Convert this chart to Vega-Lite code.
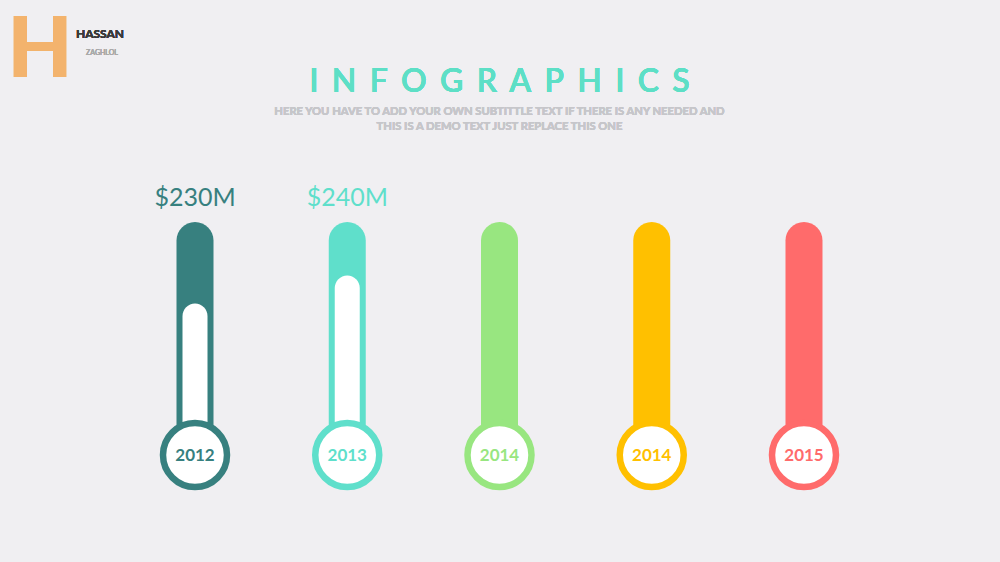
{
  "$schema": "https://vega.github.io/schema/vega-lite/v6.json",
  "width": 1000,
  "height": 562,
  "autosize": {"type": "none"},
  "padding": 0,
  "background": "#f0eff2",
  "config": {"view": {"stroke": null}, "font": "Lato"},
  "data": {
    "values": [
      {"slot": 1, "year": "2012", "amount": "$230M", "level": 65},
      {"slot": 2, "year": "2013", "amount": "$240M", "level": 77},
      {"slot": 3, "year": "2014", "amount": null, "level": null},
      {"slot": 4, "year": "2014", "amount": null, "level": null},
      {"slot": 5, "year": "2015", "amount": null, "level": null}
    ]
  },
  "layer": [
    {
      "mark": {"type": "bar", "orient": "vertical", "width": 37, "cornerRadiusTopLeft": 18.5, "cornerRadiusTopRight": 18.5},
      "encoding": {
        "x": {"field": "slot", "type": "quantitative", "axis": null, "scale": {"domain": [-0.2808, 6.2874], "nice": false, "zero": false, "padding": 0}},
        "y": {"datum": 100, "type": "quantitative", "axis": null, "scale": {"domain": [-45.92, 195.28], "nice": false, "zero": false, "padding": 0}},
        "y2": {"datum": 0},
        "color": {"field": "slot", "type": "nominal", "legend": null, "scale": {"domain": [1, 2, 3, 4, 5], "range": ["#37807f", "#5fdfcb", "#98e680", "#ffc000", "#ff6b6b"]}}
      }
    },
    {
      "transform": [{"filter": "datum.level != null"}],
      "mark": {"type": "bar", "orient": "vertical", "width": 25, "color": "#ffffff", "cornerRadiusTopLeft": 12.5, "cornerRadiusTopRight": 12.5},
      "encoding": {
        "x": {"field": "slot", "type": "quantitative", "axis": null},
        "y": {"field": "level", "type": "quantitative", "axis": null},
        "y2": {"datum": 0}
      }
    },
    {
      "mark": {"type": "point", "shape": "circle", "filled": true, "fill": "#ffffff", "fillOpacity": 1, "opacity": 1, "strokeWidth": 6.5, "size": 4096},
      "encoding": {
        "x": {"field": "slot", "type": "quantitative", "axis": null},
        "y": {"datum": 0, "type": "quantitative", "axis": null},
        "stroke": {"field": "slot", "type": "nominal", "legend": null, "scale": {"domain": [1, 2, 3, 4, 5], "range": ["#37807f", "#5fdfcb", "#98e680", "#ffc000", "#ff6b6b"]}}
      }
    },
    {
      "mark": {"type": "text", "fontSize": 17, "fontWeight": "bold", "baseline": "middle", "align": "center", "dy": 1},
      "encoding": {
        "x": {"field": "slot", "type": "quantitative", "axis": null},
        "y": {"datum": 0, "type": "quantitative", "axis": null},
        "text": {"field": "year"},
        "color": {"field": "slot", "type": "nominal", "legend": null}
      }
    },
    {
      "transform": [{"filter": "datum.amount != null"}],
      "mark": {"type": "text", "fontSize": 25, "baseline": "alphabetic", "align": "center", "dy": -16},
      "encoding": {
        "x": {"field": "slot", "type": "quantitative", "axis": null},
        "y": {"datum": 100, "type": "quantitative", "axis": null},
        "text": {"field": "amount"},
        "color": {"field": "slot", "type": "nominal", "legend": null}
      }
    },
    {
      "mark": {"type": "text", "fontSize": 32, "baseline": "alphabetic", "align": "center", "color": "#5ddfc6", "fontWeight": 600},
      "encoding": {
        "x": {"datum": 3, "type": "quantitative", "axis": null},
        "y": {"datum": 155.8, "type": "quantitative", "axis": null},
        "text": {"value": "I\u2006 N\u2006 F\u2006 O\u2006 G\u2006 R\u2006 A\u2006 P\u2006 H\u2006 I\u2006 C\u2006 S"}
      }
    },
    {
      "mark": {"type": "text", "fontSize": 11.2, "baseline": "alphabetic", "align": "center", "color": "#c6c6ca", "fontWeight": "bold", "lineHeight": 14.5},
      "encoding": {
        "x": {"datum": 3, "type": "quantitative", "axis": null},
        "y": {"datum": 145.9, "type": "quantitative", "axis": null},
        "text": {"value": ["HERE YOU HAVE TO ADD YOUR OWN SUBTITTLE TEXT IF THERE IS ANY NEEDED AND", "THIS IS A DEMO TEXT JUST REPLACE THIS ONE"]}
      }
    },
    {
      "mark": {"type": "text", "fontSize": 84, "baseline": "alphabetic", "align": "center", "color": "#f3b36d", "fontWeight": 900},
      "encoding": {
        "x": {"datum": -0.018, "type": "quantitative", "axis": null},
        "y": {"datum": 162.2, "type": "quantitative", "axis": null},
        "text": {"value": "H"}
      }
    },
    {
      "mark": {"type": "text", "fontSize": 12, "baseline": "alphabetic", "align": "left", "color": "#3a3a3a", "fontWeight": "bold"},
      "encoding": {
        "x": {"datum": 0.218, "type": "quantitative", "axis": null},
        "y": {"datum": 178.8, "type": "quantitative", "axis": null},
        "text": {"value": "HASSAN"}
      }
    },
    {
      "mark": {"type": "text", "fontSize": 7, "baseline": "alphabetic", "align": "center", "color": "#aaaaaa"},
      "encoding": {
        "x": {"datum": 0.389, "type": "quantitative", "axis": null},
        "y": {"datum": 171.7, "type": "quantitative", "axis": null},
        "text": {"value": "ZAGHLOL"}
      }
    }
  ]
}
